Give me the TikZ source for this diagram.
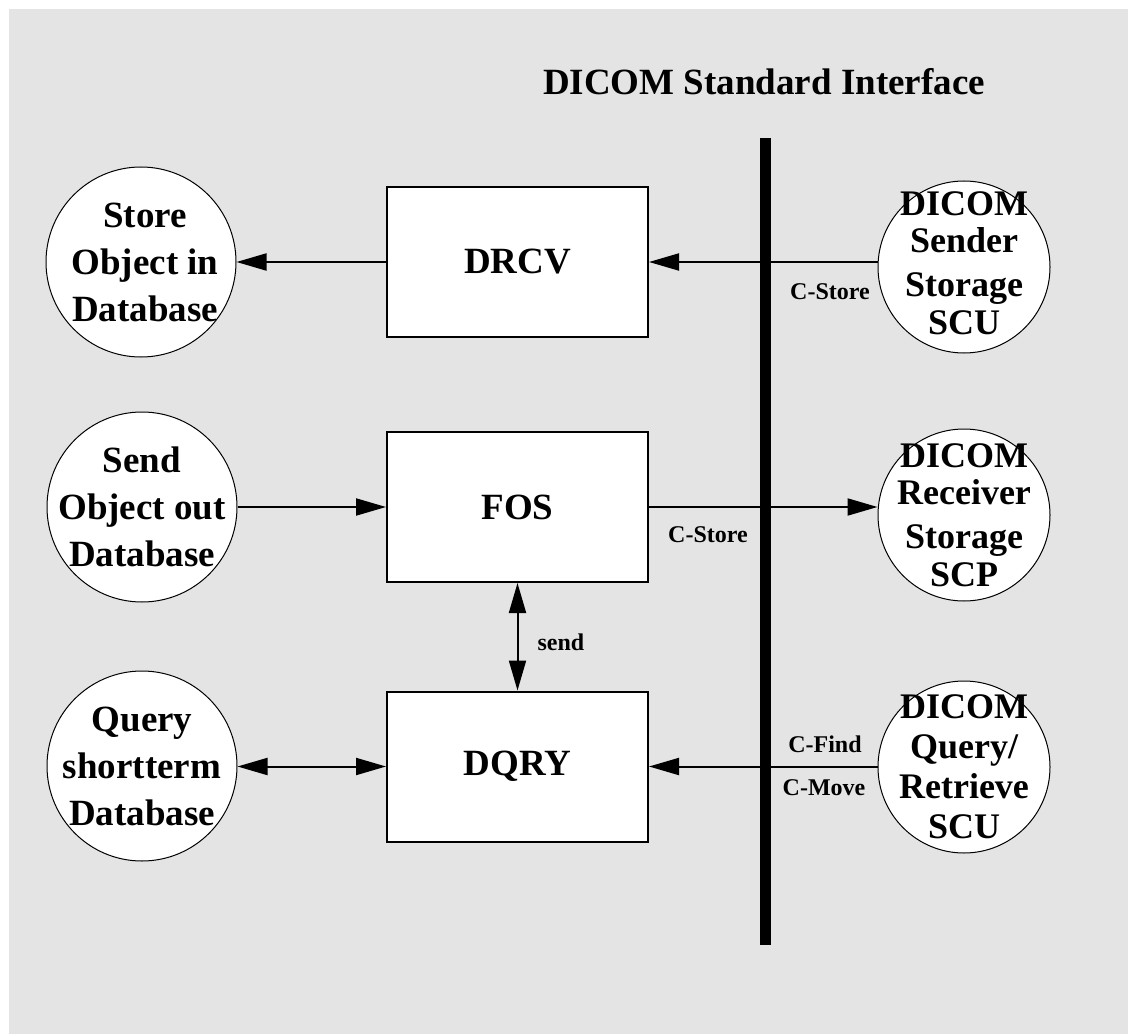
\documentclass[tikz,border=0pt]{standalone}
\usepackage{fontspec}
\setmainfont{Liberation Serif}
\usetikzlibrary{arrows.meta}
\definecolor{bggray}{RGB}{228,228,228}
\begin{document}
\begin{tikzpicture}[x=0.75pt,y=-0.75pt,
  bigfont/.style={font=\fontsize{27.75}{35}\selectfont\bfseries},
  box/.style={draw, line width=1.5pt, fill=white, minimum width=195.75pt,
    minimum height=112.5pt, inner sep=0pt, bigfont},
  lcirc/.style={circle, draw, line width=0.75pt, fill=white, minimum size=142.5pt, inner sep=0pt},
  rcirc/.style={circle, draw, line width=0.75pt, fill=white, minimum size=129pt, inner sep=0pt},
  ltext/.style={inner sep=0pt, align=center, font=\fontsize{27.75}{35.25}\selectfont\bfseries},
  rtext/.style={inner sep=0pt, align=center, font=\fontsize{27}{33}\selectfont\bfseries},
  tip/.tip={Triangle[length=22.5pt,width=12.75pt]},
  conn/.style={line width=1.5pt, -tip},
  conntwo/.style={line width=1.5pt, tip-tip},
  small/.style={font=\fontsize{18}{20}\selectfont\bfseries, anchor=base, inner sep=0pt}
]
\useasboundingbox (0,0) rectangle (1128,1034);
\fill[bggray] (9,9) rectangle (1128,1034);

% title
\node[bigfont, anchor=base, inner sep=0pt] (title) at (764,95) {DICOM Standard Interface};

% interface bar
\node[fill=black, minimum width=8.25pt, minimum height=605.25pt, inner sep=0pt] (bar) at (765.5,541.5) {};

% boxes
\node[box] (drcv) at (517.5,262) {DRCV};
\node[box] (fos) at (517.5,507) {FOS};
\node[box] (dqry) at (517.5,766.5) {DQRY};

% left circles
\node[lcirc] (store) at (141,262) {};
\node[ltext] (storet) at ([xshift=3pt]store.center) {Store\\Object in\\Database};
\node[lcirc] (sendobj) at (142,507) {};
\node[ltext] (sendobjt) at (sendobj.center) {Send\\Object out\\Database};
\node[lcirc] (query) at (142,766) {};
\node[ltext] (queryt) at (query.center) {Query\\shortterm\\Database};

% right circles
\node[rcirc] (sender) at (964,267) {};
\node[rtext] (sendert) at ([yshift=3pt]sender.center) {DICOM\\[-5pt]Sender\\Storage\\[-5pt]SCU};
\node[rcirc] (receiver) at (964,515) {};
\node[rtext] (receivert) at (receiver.center) {DICOM\\[-5pt]Receiver\\Storage\\[-5pt]SCP};
\node[rcirc] (qr) at (964,767) {};
\node[rtext] (qrt) at (qr.center) {DICOM\\[-3pt]Query/\\[-3pt]Retrieve\\[-3pt]SCU};

% connectors
\draw[conn] (drcv.west) -- (drcv.west -| store.east);
\draw[conn] (drcv.east -| sender.west) -- (drcv.east);
\draw[conn] (fos.west -| sendobj.east) -- (fos.west);
\draw[conn] (fos.east) -- (fos.east -| receiver.west);
\draw[conntwo] (fos.south) -- (dqry.north);
\draw[conntwo] (dqry.west -| query.east) -- (dqry.west);
\draw[conn] (dqry.east -| qr.west) -- (dqry.east);

% labels
\node[small] (l1) at (830,300) {C-Store};
\node[small] (l2) at (708,542) {C-Store};
\node[small] (l3) at (825,752) {C-Find};
\node[small] (l4) at (824,795) {C-Move};
\node[small] (l5) at (561,650) {send};
\end{tikzpicture}
\end{document}
